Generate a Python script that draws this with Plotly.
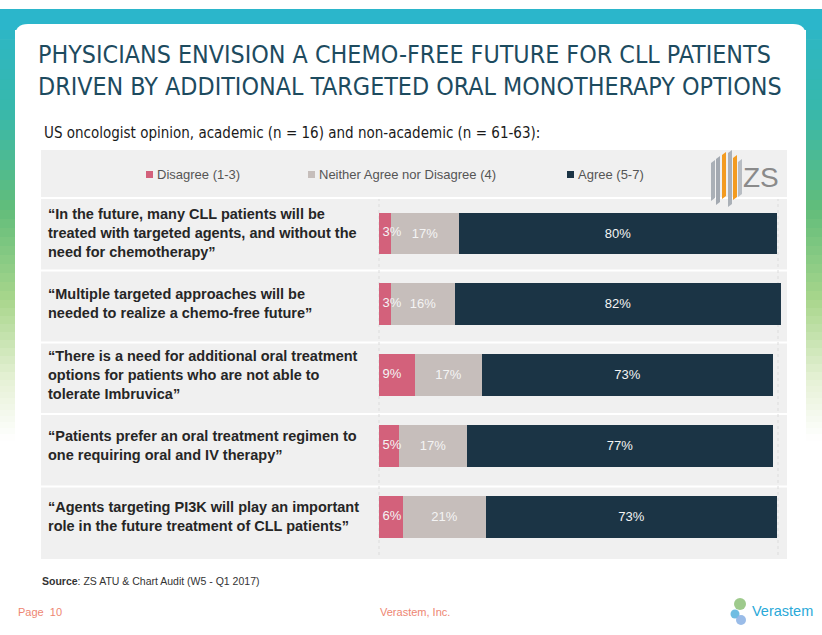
import plotly.graph_objects as go

W, H = 822, 635

# ---------------- data ----------------
statements = [
    "“In the future, many CLL patients will be<br>treated with targeted agents, and without the<br>need for chemotherapy”",
    "“Multiple targeted approaches will be<br>needed to realize a chemo-free future”",
    "“There is a need for additional oral treatment<br>options for patients who are not able to<br>tolerate Imbruvica”",
    "“Patients prefer an oral treatment regimen to<br>one requiring oral and IV therapy”",
    "“Agents targeting PI3K will play an important<br>role in the future treatment of CLL patients”",
]
series_names = ["Disagree (1-3)", "Neither Agree nor Disagree (4)", "Agree (5-7)"]
disagree = [3, 3, 9, 5, 6]
neither = [17, 16, 17, 17, 21]
agree = [80, 82, 73, 77, 73]

title_lines = ["PHYSICIANS ENVISION A CHEMO-FREE FUTURE FOR CLL PATIENTS",
               "DRIVEN BY ADDITIONAL TARGETED ORAL MONOTHERAPY OPTIONS"]
subtitle = "US oncologist opinion, academic (n = 16) and non-academic (n = 61-63):"
source_text = "<b>Source</b>: ZS ATU & Chart Audit (W5 - Q1 2017)"

# ---------------- styles ----------------
colors = ["#d3617b", "#c6bebb", "#1b3445"]
TITLE_COLOR = "#1d4b5f"
FOOT_COLOR = "#ee8672"
NARROW = "DejaVu Sans Condensed, Liberation Sans Narrow, sans-serif"
SANS = "Liberation Sans, Arial, sans-serif"
LABEL_FONT = dict(color="#f4f4f4", size=13, family=SANS)


def px(x):
    return x / W


def py(y):
    return 1 - y / H


ypos = list(range(len(statements)))
values = [disagree, neither, agree]

fig = go.Figure()
for idx, (name, vals, col) in enumerate(zip(series_names, values, colors)):
    show_text = idx > 0
    fig.add_trace(go.Bar(
        y=ypos, x=vals, name=name, orientation="h",
        marker=dict(color=col, line=dict(width=0)),
        width=0.59,
        text=[f"{v}%" for v in vals] if show_text else None,
        textposition="inside" if show_text else "none",
        insidetextanchor="middle", textangle=0,
        constraintext="none", cliponaxis=False,
        textfont=LABEL_FONT,
        showlegend=False, hoverinfo="skip",
    ))

# Disagree labels drawn on top so they can overflow the small segments
fig.add_trace(go.Scatter(
    x=[0] * len(disagree), y=ypos, mode="text",
    text=[f"\u00a0{v}%" for v in disagree], textposition="middle right",
    textfont=LABEL_FONT, showlegend=False, hoverinfo="skip", cliponaxis=False,
))

shapes = []

# ---- background gradient stripes (decoration) ----
def mix(c1, c2, t):
    a = [int(c1[i:i + 2], 16) for i in (1, 3, 5)]
    b = [int(c2[i:i + 2], 16) for i in (1, 3, 5)]
    return "#%02x%02x%02x" % tuple(round(a[k] + (b[k] - a[k]) * t) for k in range(3))

stops = [(9, "#2ab6cc"), (110, "#38b8ab"), (210, "#62bd7a"), (300, "#a9d68c"),
         (380, "#e6f1d6"), (440, "#ffffff")]
for i in range(len(stops) - 1):
    y0, c0 = stops[i]
    y1, c1 = stops[i + 1]
    n = 10
    for k in range(n):
        ya = y0 + (y1 - y0) * k / n
        yb = y0 + (y1 - y0) * (k + 1) / n + 0.6
        c = mix(c0, c1, (k + 0.5) / n)
        for xa, xb in ((0, 15), (806, 822)):
            shapes.append(dict(type="rect", xref="paper", yref="paper",
                               x0=px(xa), x1=px(xb), y0=py(yb), y1=py(ya),
                               fillcolor=c, line=dict(width=0), layer="below"))
# top band
shapes.append(dict(type="rect", xref="paper", yref="paper", x0=0, x1=1,
                   y0=py(30), y1=py(9), fillcolor="#2bb6cb", line=dict(width=0), layer="below"))


def conv_path(p):
    out = []
    for t in p.split():
        if "," in t:
            a, b = t.split(",")
            out.append(f"{px(float(a)):.5f},{py(float(b)):.5f}")
        else:
            out.append(t)
    return " ".join(out)


# white rounded card
r = 13
x0c, x1c, y0c, y1c = 15, 806, 24, 660
path = (f"M {x0c},{y0c + r} Q {x0c},{y0c} {x0c + r},{y0c} L {x1c - r},{y0c} "
        f"Q {x1c},{y0c} {x1c},{y0c + r} L {x1c},{y1c} L {x0c},{y1c} Z")
shapes.append(dict(type="path", xref="paper", yref="paper", path=conv_path(path),
                   fillcolor="#ffffff", line=dict(width=0), layer="below"))

# gray chart panel
shapes.append(dict(type="rect", xref="paper", yref="paper",
                   x0=px(41), x1=px(787), y0=py(559), y1=py(150),
                   fillcolor="#f0f0f0", line=dict(width=0), layer="below"))
# row separators
for ys in [198, 270.5, 342.5, 414, 486.5]:
    shapes.append(dict(type="line", xref="paper", yref="paper",
                       x0=px(41), x1=px(787), y0=py(ys), y1=py(ys),
                       line=dict(color="#ffffff", width=2), layer="below"))
# faint vertical guide lines
for xs in [379, 778]:
    shapes.append(dict(type="line", xref="paper", yref="paper",
                       x0=px(xs), x1=px(xs), y0=py(555), y1=py(199),
                       line=dict(color="#dcdcdc", width=1, dash="dot"), layer="below"))

# legend squares (manual legend)
legend_x = [146, 308, 567]
for lx, col in zip(legend_x, colors):
    shapes.append(dict(type="rect", xref="paper", yref="paper",
                       x0=px(lx), x1=px(lx + 7), y0=py(178), y1=py(171),
                       fillcolor=col, line=dict(width=0)))

# ZS logo bars (decoration)
logo_bars = [(711, 160, 201, "#aab0b7"), (716, 156, 205, "#a3a9b1"), (722, 152, 199, "#f39b20"),
             (728, 150, 207, "#aab0b7"), (733, 155, 200, "#f39b20"), (738, 159, 197, "#b8bdc3")]
for bx, yt, yb, col in logo_bars:
    p = (f"M {bx},{yb} L {bx + 4},{yb - 3} L {bx + 4},{yt} L {bx},{yt + 3} Z")
    shapes.append(dict(type="path", xref="paper", yref="paper", path=conv_path(p),
                       fillcolor=col, line=dict(width=0)))

# Verastem logo icon
for cx, cy, rr, col in [(740, 604, 6, "#93c47f"), (735, 614, 4.5, "#5fb6df"), (741, 620, 5, "#8fb5e6")]:
    shapes.append(dict(type="circle", xref="paper", yref="paper",
                       x0=px(cx - rr), x1=px(cx + rr), y0=py(cy + rr), y1=py(cy - rr),
                       fillcolor=col, line=dict(width=0), opacity=0.9))

annotations = []
# title
for i, line in enumerate(title_lines):
    annotations.append(dict(text=line, xref="paper", yref="paper", x=px(36), y=py(55 + 31 * i),
                            xanchor="left", yanchor="middle", showarrow=False,
                            font=dict(family=NARROW, size=24.8, color=TITLE_COLOR)))
# subtitle
annotations.append(dict(text=subtitle, xref="paper", yref="paper", x=px(42), y=py(133),
                        xanchor="left", yanchor="middle", showarrow=False,
                        font=dict(family=NARROW, size=15, color="#1a1a1a")))
# legend texts
for lx, name in zip(legend_x, series_names):
    annotations.append(dict(text=name, xref="paper", yref="paper", x=px(lx + 9), y=py(174.5),
                            xanchor="left", yanchor="middle", showarrow=False,
                            font=dict(family=SANS, size=13, color="#555555")))
# row labels (category labels)
for yi, lab in zip(ypos, statements):
    annotations.append(dict(text=lab, x=px(46), xref="paper", y=yi, yref="y",
                            xanchor="left", yanchor="middle", align="left", showarrow=False,
                            font=dict(family=SANS, size=14.5, color="#262626", weight="bold")))
# ZS text
annotations.append(dict(text="ZS", xref="paper", yref="paper", x=px(741), y=py(177),
                        xanchor="left", yanchor="middle", showarrow=False,
                        font=dict(family="Liberation Sans, sans-serif", size=28, color="#8a8a8a")))
# source
annotations.append(dict(text=source_text, xref="paper", yref="paper", x=px(40), y=py(581),
                        xanchor="left", yanchor="middle", showarrow=False,
                        font=dict(family=SANS, size=10.5, color="#333333")))
# footer
annotations.append(dict(text="Page  10", xref="paper", yref="paper", x=px(16), y=py(612),
                        xanchor="left", yanchor="middle", showarrow=False,
                        font=dict(family=SANS, size=11, color=FOOT_COLOR)))
annotations.append(dict(text="Verastem, Inc.", xref="paper", yref="paper", x=px(378), y=py(612),
                        xanchor="left", yanchor="middle", showarrow=False,
                        font=dict(family=SANS, size=11, color=FOOT_COLOR)))
annotations.append(dict(text="Verastem", xref="paper", yref="paper", x=px(750), y=py(611),
                        xanchor="left", yanchor="middle", showarrow=False,
                        font=dict(family=SANS, size=14.5, color="#2aa9d8")))

# y axis: rows centered at pixel 233 .. 516.5
step = (516.5 - 233) / 4
top_px = 233 - step / 2
bot_px = 516.5 + step / 2

XMAX = 101
fig.update_layout(
    width=W, height=H,
    margin=dict(l=0, r=0, t=0, b=0),
    paper_bgcolor="#ffffff", plot_bgcolor="rgba(0,0,0,0)",
    barmode="stack", bargap=0,
    xaxis=dict(domain=[px(379), px(379 + 3.98 * XMAX)], range=[0, XMAX],
               visible=False, fixedrange=True),
    yaxis=dict(domain=[py(bot_px), py(top_px)], range=[4.5, -0.5], visible=False, fixedrange=True),
    shapes=shapes, annotations=annotations,
    showlegend=False,
)

fig.write_html("out.html", config={"displayModeBar": False},
               post_script="document.body.style.margin='0';document.body.style.overflow='hidden';")
